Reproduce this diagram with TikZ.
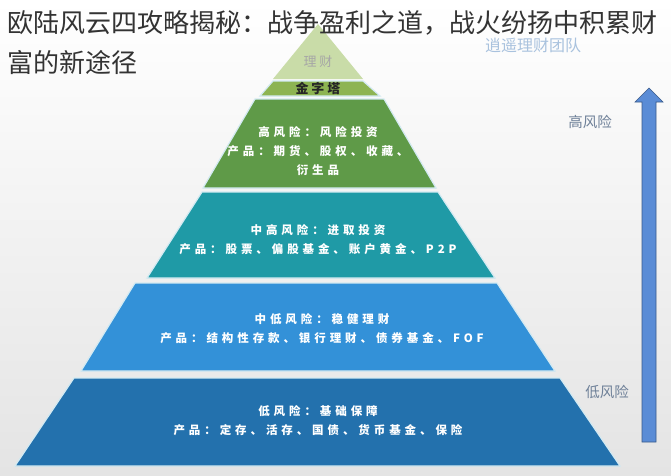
\documentclass[tikz,border=0pt]{standalone}
\usepackage{fontspec}
\newfontfamily\cjk{Noto Sans CJK SC}
\newfontfamily\cjkband[LetterSpace=34]{Noto Sans CJK SC}
\newfontfamily\cjktop[LetterSpace=22]{Noto Sans CJK SC}
\usetikzlibrary{positioning}

\definecolor{bgbottom}{HTML}{E4E4E4}
\definecolor{gapcol}{HTML}{D3EAF2}
\definecolor{topgreen}{HTML}{C9DCA8}
\definecolor{olivegreen}{HTML}{8DB452}
\definecolor{bandgreen}{HTML}{5F9A48}
\definecolor{bandteal}{HTML}{1F9AA6}
\definecolor{bandblue}{HTML}{3391D8}
\definecolor{banddark}{HTML}{2371AD}
\definecolor{arrowblue}{HTML}{5A8CD6}
\definecolor{labelgray}{HTML}{6E8098}
\definecolor{marklight}{HTML}{A9C2DE}

\begin{document}
\begin{tikzpicture}[
    x=1pt, y=-1pt,
    band/.style={fill=#1, draw=gapcol, line width=1.2pt},
    bandtext/.style={text=white, align=center, inner sep=0pt, font=\cjkband\bfseries\fontsize{11.5}{19}\selectfont},
    risk/.style={text=labelgray, inner sep=0pt, font=\cjk\fontsize{14.5}{16}\selectfont},
    titletext/.style={text=black!80, inner sep=0pt, anchor=base west, font=\cjk\fontsize{26}{30}\selectfont},
]

% Background
\shade[top color=white, bottom color=bgbottom] (0,0) rectangle (671,475);
\useasboundingbox (0,0) rectangle (671,475);

% Pyramid bands
\fill[topgreen] (318,24) -- (363,79) -- (273,79) -- cycle;
\path[band=olivegreen] (273,81) -- (363,81) -- (380,96) -- (260,96) -- cycle;
\path[band=bandgreen] (255,99) -- (384,99) -- (436,188) -- (203,188) -- cycle;
\path[band=bandteal] (202,192) -- (438,192) -- (495,278) -- (147,278) -- cycle;
\path[band=bandblue] (135,283) -- (497,283) -- (555,371) -- (81,371) -- cycle;
\path[band=banddark] (74,378) -- (560,378) -- (620,466) -- (15,466) -- cycle;

% Band texts
\node[text=gray!70, inner sep=0pt, font=\cjktop\fontsize{13}{15}\selectfont] (licai) at (318,62) {理财};
\node[text=black!85, inner sep=0pt, font=\cjktop\bfseries\fontsize{13}{15}\selectfont] (jinzita) at (318,88) {金字塔};
\node[bandtext] (high) at (318,151.5) {高风险：风险投资\\产品：期货、股权、收藏、\\衍生品};
\node[bandtext] (midhigh) at (318,240) {中高风险：进取投资\\产品：股票、偏股基金、账户黄金、P2P};
\node[bandtext] (midlow) at (322,329) {中低风险：稳健理财\\产品：结构性存款、银行理财、债券基金、FOF};
\node[bandtext] (low) at (318,420.5) {低风险：基础保障\\产品：定存、活存、国债、货币基金、保险};

% Risk arrow
\path[fill=arrowblue, draw=arrowblue!65!black, line width=0.6pt]
  (642,442) -- (642,102) -- (635,102) -- (649,88) -- (663,102) -- (656,102) -- (656,442) -- cycle;
\node[risk] (highrisk) at (590,122) {高风险};
\node[risk] (lowrisk) at (607,392) {低风险};

% Title and watermark
\node[titletext] (title1) at (7,32) {欧陆风云四攻略揭秘：战争盈利之道，战火纷扬中积累财};
\node[titletext] (title2) at (7,72) {富的新途径};
\node[text=marklight, inner sep=0pt, font=\cjk\fontsize{16}{18}\selectfont] (watermark) at (533,45) {逍遥理财团队};

\end{tikzpicture}
\end{document}
